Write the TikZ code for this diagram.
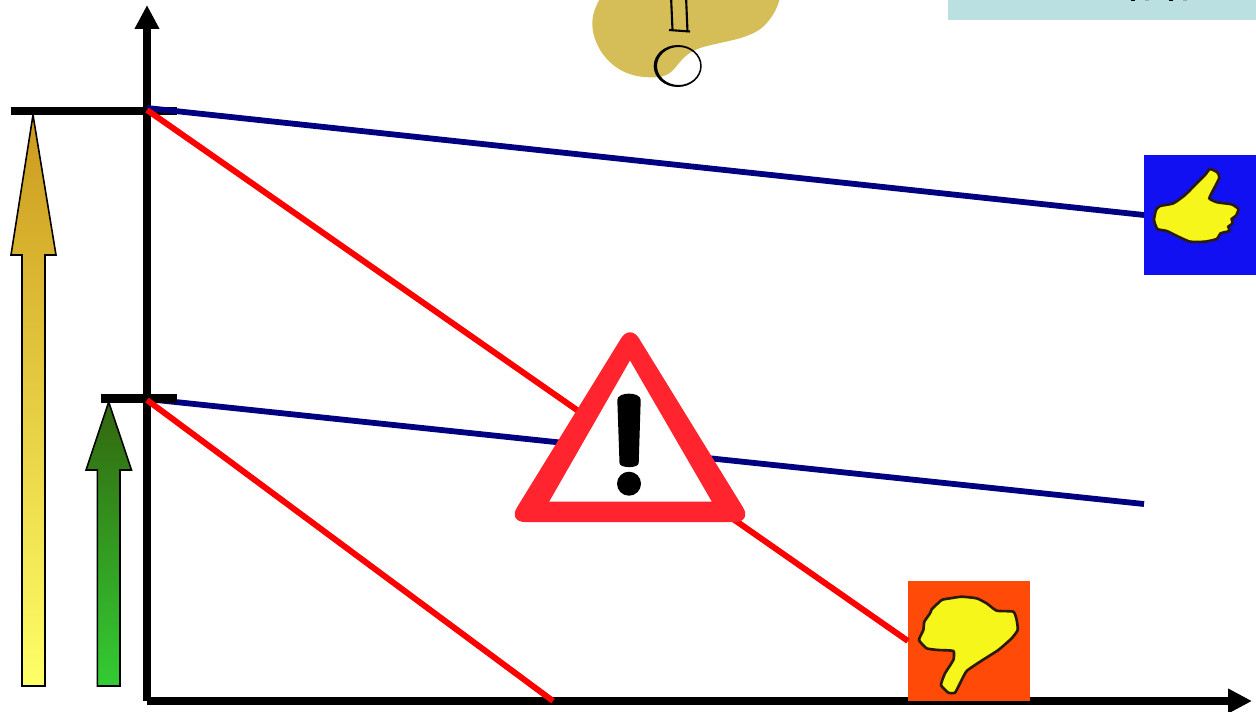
\documentclass[tikz,border=0pt]{standalone}
\usepackage{xcolor}
\usetikzlibrary{arrows.meta}
\definecolor{lineNavy}{HTML}{000080}
\definecolor{lineRed}{HTML}{FF0000}
\definecolor{signRed}{HTML}{FF242E}
\definecolor{boxBlue}{HTML}{1010F2}
\definecolor{boxOrange}{HTML}{FF4A08}
\definecolor{thumbYellow}{HTML}{F6F61A}
\definecolor{thumbInk}{HTML}{2A1A10}
\definecolor{blobGold}{HTML}{D5BD58}
\definecolor{bannerTeal}{HTML}{BBE0E2}
\definecolor{goldTop}{HTML}{CC9A1E}
\definecolor{goldBottom}{HTML}{FFFF66}
\definecolor{greenTop}{HTML}{33660F}
\definecolor{greenBottom}{HTML}{33CC33}
\tikzset{
  axisLine/.style={
    line width=4.5pt,
    draw=black,
    -{Triangle[length=13.6pt,width=13.2pt]}
  },
  tickLine/.style={
    line width=4.6pt,
    draw=black
  },
  navyLine/.style={
    line width=3.3pt,
    draw=lineNavy
  },
  redLine/.style={
    line width=3.4pt,
    draw=lineRed
  },
  levelArrow/.style={
    draw=black,
    line width=0.9pt,
    line join=miter
  },
  thumbBox/.style={
    rectangle,
    draw=none,
    inner sep=0pt,
    outer sep=0pt
  },
  thumbShape/.style={
    draw=thumbInk,
    fill=thumbYellow,
    line width=1.5pt
  },
  sketchLine/.style={
    draw=black,
    line width=1.2pt
  }
}

\begin{document}
\begin{tikzpicture}[x=0.02cm,y=-0.02cm]
  \useasboundingbox (0,0) rectangle (1256,711);
  \coordinate (origin) at (147,701);
  \coordinate (yEnd) at (147,5);
  \coordinate (xEnd) at (1252,701);
  \coordinate (highStart) at (147,108);
  \coordinate (highRed) at (147,110);
  \coordinate (lowStart) at (147,399);
  \coordinate (lowRed) at (147,400);
  \coordinate (lowBlueEnd) at (1144,504);
  \coordinate (lowRedEnd) at (553,701);
  \coordinate (highTickLeft) at (11,111);
  \coordinate (highTickRight) at (177,111);
  \coordinate (lowTickLeft) at (101,398.5);
  \coordinate (lowTickRight) at (177,398.5);

  \begin{scope}
    \clip (0,0) rectangle (1256,711);
    \fill[blobGold] (606,-10) .. controls (596,3) and (592,14) .. (592.3,25) .. controls (593,45) and (610,77) .. (650,77.3) .. controls (680,79) and (672,58) .. (700,48) .. controls (722,41) and (750,40) .. (765,25) .. controls (774,15) and (778,8) .. (782,-10) -- cycle;
    \fill[bannerTeal] (948,-2) rectangle (1258,20);
    \foreach \markX/\markTone in {1131/100,1145/35,1169/100,1183/35} {
      \fill[black!\markTone] (\markX,0) rectangle ++(4,1.2);
    }
    \draw[sketchLine] (671,-4) -- (672.5,30);
    \draw[sketchLine] (686,-4) -- (687.5,32);
    \draw[sketchLine] (669,30) -- (690,31.5);
    \fill[black,even odd rule] (677.7,66) ellipse (24 and 21) (678.6,66) ellipse (21.6 and 19);
  \end{scope}

  \draw[levelArrow,top color=goldTop,bottom color=goldBottom] (33,115) -- (56,255) -- (45,255) -- (45,686) -- (22,686) -- (22,255) -- (11,255) -- cycle;
  \draw[levelArrow,top color=greenTop,bottom color=greenBottom] (108.7,402) -- (131.5,470) -- (120,470) -- (120,686) -- (97.3,686) -- (97.3,470) -- (86,470) -- cycle;

  \draw[axisLine] (origin) -- (yEnd);
  \draw[axisLine] (origin) -- (xEnd);
  \draw[tickLine] (highTickLeft) -- (highTickRight);
  \draw[navyLine] (lowStart) -- (lowBlueEnd);
  \draw[tickLine] (lowTickLeft) -- (lowTickRight);

  \node[thumbBox,fill=boxBlue,minimum width=2.24cm,minimum height=2.4cm] (thumbUp) at (1200,215) {};
  \node[thumbBox,fill=boxOrange,minimum width=2.44cm,minimum height=2.4cm] (thumbDown) at (969,641) {};

  \draw[navyLine] (highStart) -- (thumbUp.west);
  \draw[redLine] (highRed) -- (thumbDown.west);
  \draw[redLine] (lowRed) -- (lowRedEnd);

  \begin{scope}[shift={(1130,145)},scale=0.3333]
    \draw[thumbShape] plot[smooth cycle,tension=0.3] coordinates {(240,72) (262,82) (268,98) (255,125) (238,160) (262,172) (305,178) (325,192) (318,212) (305,222) (308,235) (295,245) (298,258) (272,265) (260,282) (225,290) (180,290) (145,275) (110,258) (82,252) (72,225) (78,195) (90,183) (130,175) (165,150) (205,110) (225,90)};
  \end{scope}
  \begin{scope}[shift={(895,570)},scale=0.3333]
    \draw[thumbShape] plot[smooth cycle,tension=0.3] coordinates {(140,90) (165,85) (200,80) (245,85) (275,100) (305,122) (355,125) (365,150) (368,180) (350,205) (310,240) (260,272) (215,303) (195,340) (180,368) (160,368) (138,345) (150,310) (175,270) (175,243) (130,240) (95,235) (72,210) (85,180) (88,155) (105,130) (110,118)};
  \end{scope}

  \fill[signRed,rounded corners=0.34cm] (630,323.8) -- (752,522) -- (508,522) -- cycle;
  \fill[white] (630,360.7) -- (711.7,501.7) -- (549.3,501.7) -- cycle;
  \fill[black] (617.3,400) .. controls (617.3,391.5) and (640.7,391.5) .. (640.7,400) -- (638.7,463) .. controls (638.7,468.5) and (619.5,468.5) .. (619.5,463) -- cycle;
  \fill[black] (629,483.7) circle (12);
\end{tikzpicture}
\end{document}
